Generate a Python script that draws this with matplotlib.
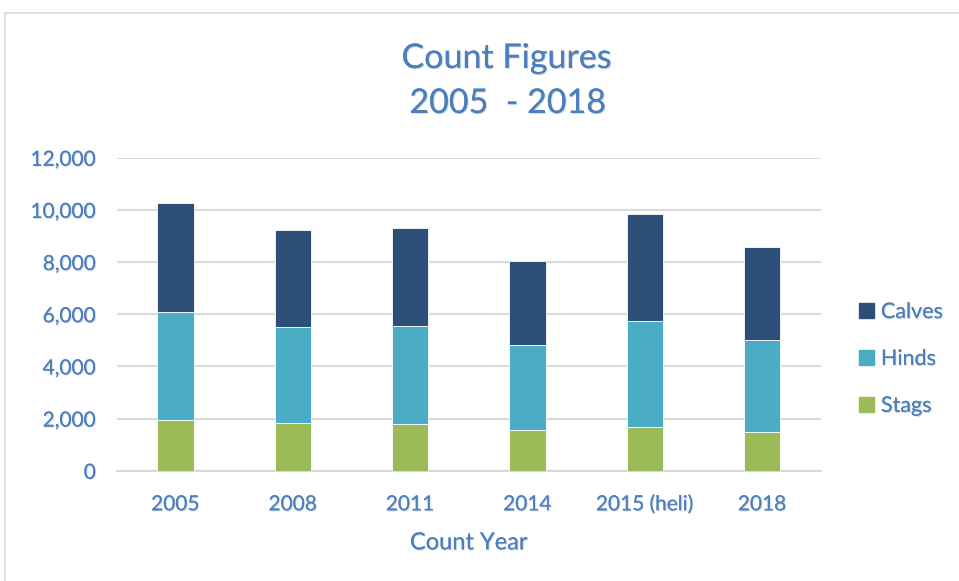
import matplotlib
matplotlib.use("Agg")
import matplotlib.pyplot as plt
import matplotlib.patheffects as pe
from matplotlib.patches import Rectangle, Patch
from matplotlib.ticker import FuncFormatter

categories = ["2005", "2008", "2011", "2014", "2015 (heli)", "2018"]
stags = [1930, 1840, 1780, 1550, 1665, 1470]
hinds = [4155, 3680, 3770, 3260, 4075, 3550]
calves = [4165, 3700, 3770, 3240, 4090, 3560]
yticks = [0, 2000, 4000, 6000, 8000, 10000, 12000]

c_calves = "#2C4F78"
c_hinds = "#4BACC6"
c_stags = "#9BBB59"
txt = "#4D7FBC"
grid = "#D9D9D9"

plt.rcParams['font.family'] = ['Lato', 'DejaVu Sans']
shadow = [pe.withSimplePatchShadow(offset=(0.8, -0.8), shadow_rgbFace="#9aa8bb", alpha=0.35), pe.Normal()]

fig = plt.figure(figsize=(9.59, 5.81), dpi=100)
fig.patches.append(Rectangle((5/959, -0.1), 1.1, (581-13)/581 + 0.1, transform=fig.transFigure,
                             fill=False, edgecolor="#D9D9D9", linewidth=1.2))

ax = fig.add_axes([116.7/959, (581-470.7)/581, 704/959, 313/581])
x = list(range(len(categories)))
w = 0.31
ekw = dict(edgecolor="#ffffff", linewidth=0.6, zorder=3)
ax.bar(x, stags, w, color=c_stags, **ekw)
b2 = [s for s in stags]
ax.bar(x, hinds, w, bottom=b2, color=c_hinds, **ekw)
b3 = [s + h for s, h in zip(stags, hinds)]
ax.bar(x, calves, w, bottom=b3, color=c_calves, **ekw)

ax.set_xlim(-0.5, len(categories) - 0.5)
ax.set_ylim(0, 12000)
ax.set_yticks(yticks)
ax.yaxis.set_major_formatter(FuncFormatter(lambda v, p: f"{int(v):,}"))
ax.set_xticks(x)
ax.set_xticklabels(categories)
ax.grid(axis="y", color=grid, linewidth=1.5, zorder=0)
ax.set_axisbelow(True)
for s in ["top", "right", "left"]:
    ax.spines[s].set_visible(False)
ax.spines["bottom"].set_color(grid)
ax.spines["bottom"].set_linewidth(1.5)
ax.tick_params(axis="both", length=0, labelsize=15, colors=txt)
ax.tick_params(axis="y", pad=15)
ax.tick_params(axis="x", pad=17)
for lab in ax.get_xticklabels() + ax.get_yticklabels():
    lab.set_path_effects(shadow)

ax.set_xlabel("Count Year", fontsize=17, color=txt, labelpad=13, path_effects=shadow)

fig.text(0.5 + (506.5 - 479.5)/959, 1 - 58/581, "Count Figures", ha="center", va="center",
         fontsize=24.5, color=txt, path_effects=shadow)
fig.text(0.5 + (507.5 - 479.5)/959, 1 - 103/581, "2005  - 2018", ha="center", va="center",
         fontsize=24.5, color=txt, path_effects=shadow)

handles = [Patch(color=c_calves), Patch(color=c_hinds), Patch(color=c_stags)]
leg = fig.legend(handles, ["Calves", "Hinds", "Stags"], loc="center left",
                 bbox_to_anchor=(840/959, 1 - 359/581), frameon=False,
                 fontsize=15.5, labelcolor=txt, handlelength=0.7, handleheight=0.7,
                 handletextpad=0.3, labelspacing=1.25)
for t in leg.get_texts():
    t.set_path_effects(shadow)

fig.savefig("out.png", dpi=100)
